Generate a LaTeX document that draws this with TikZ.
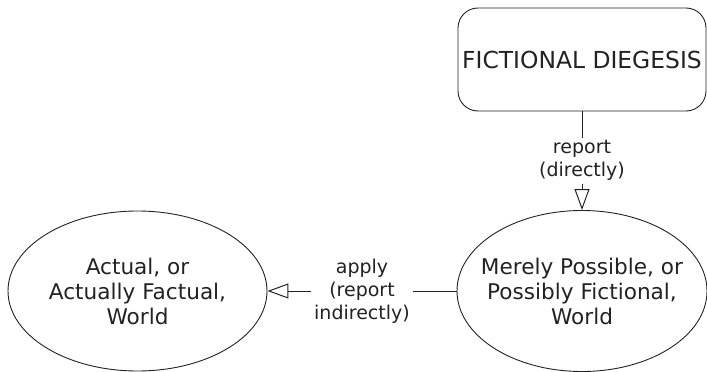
\documentclass[tikz,border=0pt]{standalone}
\usepackage{fontspec}
\setmainfont{DejaVu Sans}
\usetikzlibrary{arrows.meta,shapes.geometric}
\definecolor{ink}{RGB}{34,34,34}
\begin{document}
\begin{tikzpicture}[x=1pt,y=1pt,
  every node/.style={text=ink},
  world/.style={draw=ink, line width=0.9pt, ellipse, inner sep=0pt},
  worldtext/.style={align=center, font=\fontsize{21.6}{25}\selectfont},
  diegesis/.style={draw=ink, line width=0.9pt, rectangle, rounded corners=20pt,
    minimum width=248pt, minimum height=103pt, inner sep=0pt,
    font=\fontsize{23.4}{27}\selectfont},
  relation/.style={draw=ink, line width=1pt,
    -{Triangle[open, length=21pt, width=15pt, line width=1pt]}},
  rellabel/.style={fill=white, inner sep=3pt, align=center,
    font=\fontsize{19}{23}\selectfont}]
  \useasboundingbox (0,0) rectangle (707,-372);

  \node[diegesis] (fd) at (582,-59.5) {FICTIONAL DIEGESIS};
  \node[world, minimum width=250pt, minimum height=161pt,
    label={[worldtext]center:Merely Possible, or\\Possibly Fictional,\\World}]
    (mp) at (582,-291) {};
  \node[world, minimum width=259pt, minimum height=160pt,
    label={[worldtext]center:Actual, or\\Actually Factual,\\World}]
    (aw) at (137.5,-291) {};

  \draw[relation] (fd.south) -- node[rellabel] {report\\(directly)} (mp.north);
  \draw[relation] (mp.west) -- node[rellabel] {apply\\(report\\indirectly)} (aw.east);
\end{tikzpicture}
\end{document}
